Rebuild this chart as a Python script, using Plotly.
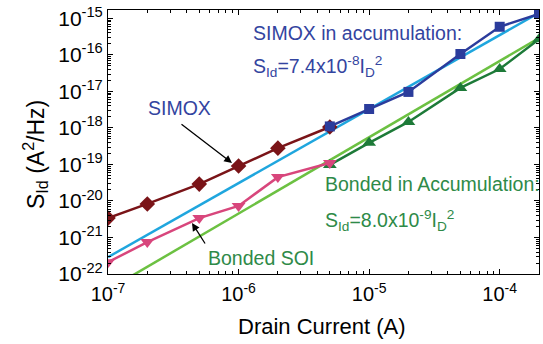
import plotly.graph_objects as go

# ---- data ----
simox_x = [1e-7, 2e-7, 5e-7, 1e-6, 2e-6, 5e-6]
simox_y = [3.4e-21, 8.3e-21, 2.9e-20, 9.1e-20, 2.8e-19, 1.06e-18]

bonded_x = [1e-7, 2e-7, 5e-7, 1e-6, 2e-6, 5e-6]
bonded_y = [2.1e-22, 7.5e-22, 3.4e-21, 7.3e-21, 4.5e-20, 1.1e-19]

simox_acc_x = [5e-6, 1e-5, 2e-5, 5e-5, 1e-4, 2e-4]
simox_acc_y = [1.1e-18, 3.3e-18, 9.7e-18, 1.06e-16, 5.9e-16, 1.33e-15]

bonded_acc_x = [5e-6, 1e-5, 2e-5, 5e-5, 1e-4, 2e-4]
bonded_acc_y = [9.7e-20, 3.9e-19, 1.46e-18, 1.25e-17, 4.1e-17, 2.7e-16]

fit_simox_x = [1e-7, 2e-4]
fit_simox_y = [2.9e-22, 1.42e-15]

fit_bonded_x = [1e-7, 2e-4]
fit_bonded_y = [3.7e-23, 2.9e-16]

xtick_vals = [1e-7, 1e-6, 1e-5, 1e-4]
xtick_text = ["10<sup>-7</sup>", "10<sup>-6</sup>", "10<sup>-5</sup>", "10<sup>-4</sup>"]
ytick_vals = [1e-22, 1e-21, 1e-20, 1e-19, 1e-18, 1e-17, 1e-16, 1e-15]
ytick_text = ["10<sup>-%d</sup>" % e for e in range(22, 14, -1)]

FONT = "Liberation Sans, Arial, sans-serif"
RED = "#7a1418"
PINK = "#d8467c"
BLUE = "#2b3c9c"
LBLUE = "#1fa6de"
LGREEN = "#6cc142"
DGREEN = "#1d7a38"
TXT_BLUE = "#3344a0"
TXT_GREEN = "#2e8a48"

fig = go.Figure()
fig.add_trace(go.Scatter(x=fit_simox_x, y=fit_simox_y, mode="lines",
                         line=dict(color=LBLUE, width=2.5)))
fig.add_trace(go.Scatter(x=fit_bonded_x, y=fit_bonded_y, mode="lines",
                         line=dict(color=LGREEN, width=2.5)))
fig.add_trace(go.Scatter(x=simox_x, y=simox_y, mode="lines+markers",
                         line=dict(color=RED, width=2.5),
                         marker=dict(symbol="diamond", size=12, color=RED)))
fig.add_trace(go.Scatter(x=simox_acc_x, y=simox_acc_y, mode="lines+markers",
                         line=dict(color=BLUE, width=2.5),
                         marker=dict(symbol="square", size=10, color=BLUE)))
fig.add_trace(go.Scatter(x=bonded_acc_x, y=bonded_acc_y, mode="lines+markers",
                         line=dict(color=DGREEN, width=2.5),
                         marker=dict(symbol="triangle-up", size=12, color=DGREEN)))
fig.add_trace(go.Scatter(x=bonded_x, y=bonded_y, mode="lines+markers",
                         line=dict(color=PINK, width=2.5),
                         marker=dict(symbol="triangle-down", size=12, color=PINK)))

W0, W1 = 108, 539
H0, H1 = 10, 274
def px(xp):
    return (xp - W0) / (W1 - W0)
def py(yp):
    return 1 - (yp - H0) / (H1 - H0)

ann = []
def txt(x, y, text, color, size=19.5, angle=0, xanchor="left"):
    ann.append(dict(xref="paper", yref="paper", x=x, y=y, text=text, showarrow=False,
                    xanchor=xanchor, yanchor="middle", textangle=angle,
                    font=dict(family=FONT, size=size, color=color)))

txt(px(251), py(33), "SIMOX in accumulation:", TXT_BLUE)
txt(px(251), py(66), "S<sub>Id</sub>=7.4x10<sup>-8</sup>I<sub>D</sub><sup>2</sup>", TXT_BLUE)
txt(px(146), py(108), "SIMOX", TXT_BLUE)
txt(px(206), py(258), "Bonded SOI", TXT_GREEN)
txt(px(323), py(184), "Bonded in Accumulation:", TXT_GREEN)
txt(px(323), py(220), "S<sub>Id</sub>=8.0x10<sup>-9</sup>I<sub>D</sub><sup>2</sup>", TXT_GREEN)

# axis titles
txt(px(35), py(155), "S<sub>Id</sub> (A<sup>2</sup>/Hz)", "black", size=23, angle=-90, xanchor="center")
txt(px(321), py(326), "Drain Current (A)", "black", size=22, xanchor="center")

# arrows
ann.append(dict(xref="paper", yref="paper", axref="pixel", ayref="pixel",
                x=px(232), y=py(163), ax=180 - 232, ay=123 - 163, text="",
                showarrow=True, arrowhead=2, arrowsize=1.2, arrowwidth=1.3, arrowcolor="black"))
ann.append(dict(xref="paper", yref="paper", axref="pixel", ayref="pixel",
                x=px(192), y=py(223), ax=206 - 192, ay=245 - 223, text="",
                showarrow=True, arrowhead=2, arrowsize=1.2, arrowwidth=1.3, arrowcolor="black"))

def minor_vals(e0, e1):
    return [m * 10.0 ** e for e in range(e0, e1) for m in range(2, 10)]

axis_common = dict(showline=True, linecolor="black", linewidth=1, mirror="ticks",
                   ticks="inside", ticklen=5, tickcolor="black", showgrid=False,
                   zeroline=False, ticklabeloverflow="allow")

fig.update_layout(
    width=543, height=344,
    margin=dict(l=W0, r=543 - W1, t=H0, b=344 - H1),
    paper_bgcolor="white", plot_bgcolor="white",
    showlegend=False,
    annotations=ann,
    xaxis=dict(type="log", range=[-7, -3.699], tickvals=xtick_vals, ticktext=xtick_text,
               ticklabelstandoff=2, tickfont=dict(family=FONT, size=20, color="black"),
               minor=dict(ticks="inside", ticklen=3, tickcolor="black", showgrid=False,
                          tickvals=minor_vals(-7, -3)),
               **axis_common),
    yaxis=dict(type="log", range=[-22.0, -14.77], tickvals=ytick_vals, ticktext=ytick_text,
               tickfont=dict(family=FONT, size=21, color="black"),
               minor=dict(ticks="inside", ticklen=3, tickcolor="black", showgrid=False,
                          tickvals=minor_vals(-22, -14)),
               **axis_common),
)

fig.write_html("out.html")
